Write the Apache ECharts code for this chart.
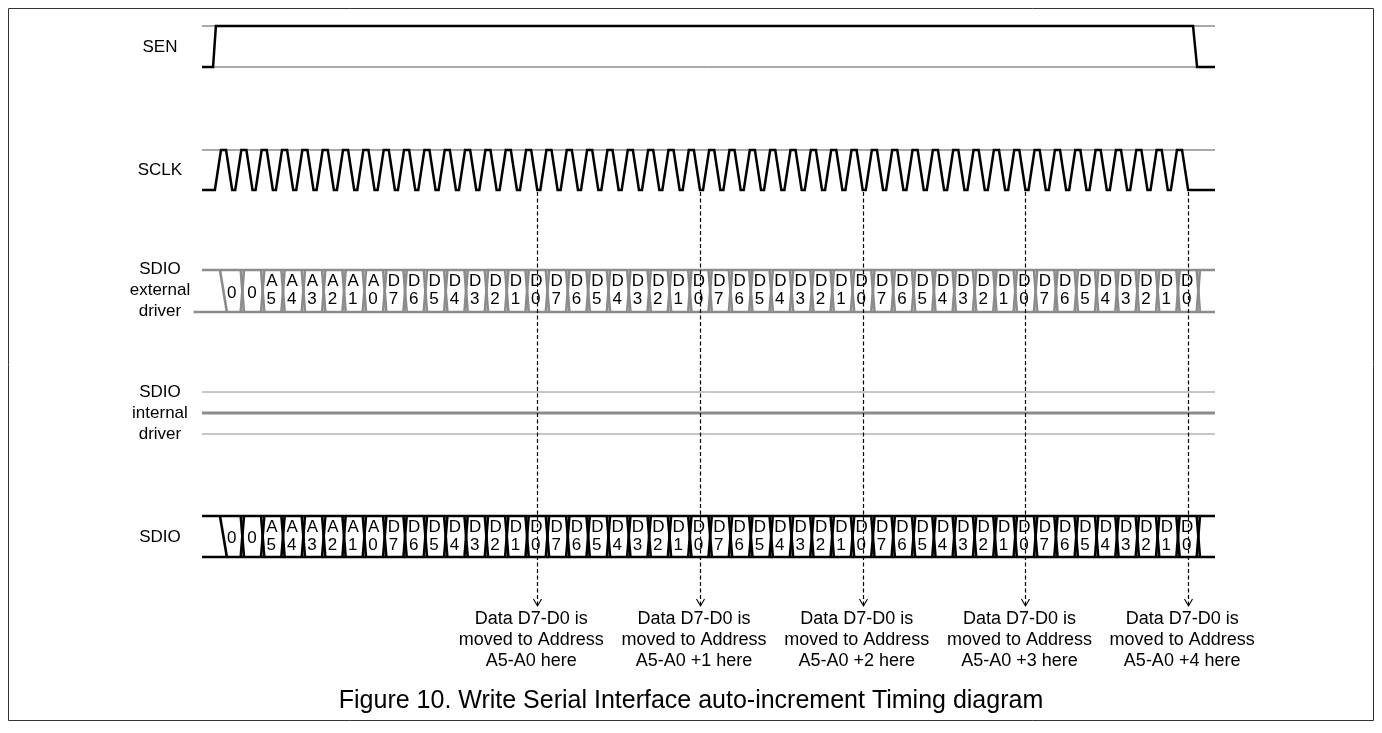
<!DOCTYPE html>
<html>
<head>
<meta charset="utf-8">
<script src="https://cdn.jsdelivr.net/npm/echarts@6/dist/echarts.min.js"></script>
<style>
  html, body { margin: 0; padding: 0; background: #fff; }
  #chart { width: 1382px; height: 733px; }
</style>
</head>
<body>
<div id="chart"></div>
<script>
// ---- timing content ----
const signalNames = [['SEN'], ['SCLK'], ['SDIO', 'external', 'driver'], ['SDIO', 'internal', 'driver'], ['SDIO']];
const headerBits = ['0', '0'];
const addressBits = ['A5', 'A4', 'A3', 'A2', 'A1', 'A0'];
const dataBits = ['D7', 'D6', 'D5', 'D4', 'D3', 'D2', 'D1', 'D0'];
const dataBytes = 5;
const clockPulses = 48;
const senEdges = [-0.44, -0.30, 47.74, 47.94];   // rise start, rise end, fall start, fall end (bit periods)
const noteLines = ['Data D7-D0 is', 'moved to Address'];
const addressOffsets = ['', ' +1', ' +2', ' +3', ' +4'];
const figureTitle = 'Figure 10. Write Serial Interface auto-increment Timing diagram';

// ---- layout ----
const W = 1382, H = 733;
const BIT_PX = 20.34, ORIGIN_PX = 222;          // x axis: one unit = one bit period
const X_MIN = -ORIGIN_PX / BIT_PX, X_MAX = (W - ORIGIN_PX) / BIT_PX;
const T_START = -0.98, T_END = 48.82;            // horizontal extent of the traces
const LABEL_X = -3.05;
const rowSen  = { hi: 26,  lo: 67,  label: [47] };
const rowClk  = { hi: 150, lo: 190, label: [170] };
const rowExt  = { hi: 270, lo: 312, label: [269, 290, 311] };
const rowInt  = { hi: 392, mid: 413, lo: 434, label: [392, 413, 434] };
const rowSdio = { hi: 516, lo: 557, label: [537] };
const FONT = '"Liberation Sans", Arial, Helvetica, sans-serif';
const BLACK = '#000000', GREY = '#8c8c8c';

// bit cells on the SDIO bus
const cells = headerBits.concat(addressBits);
for (let b = 0; b < dataBytes; b++) cells.push(...dataBits);
const headerLen = headerBits.length + addressBits.length;
// each data byte is latched at the middle of its D0 period
const latchPoints = [];
for (let b = 0; b < dataBytes; b++) latchPoints.push(headerLen + (b + 1) * dataBits.length - 0.5);

// ---- helpers ----
function segmentSeries(segs, color, width, dash, z) {
  return {
    type: 'custom', coordinateSystem: 'cartesian2d', clip: false, silent: true, z: z || 2,
    animation: false,
    data: segs,
    renderItem: (params, api) => {
      const p1 = api.coord([api.value(0), api.value(1)]);
      const p2 = api.coord([api.value(2), api.value(3)]);
      return {
        type: 'line',
        shape: { x1: p1[0], y1: p1[1], x2: p2[0], y2: p2[1] },
        style: { stroke: color, lineWidth: width, lineDash: dash || null, lineCap: 'butt' }
      };
    }
  };
}
function traceSeries(points, color, width, z) {
  return {
    type: 'line', data: points, symbol: 'none', silent: true, animation: false, z: z || 3,
    lineStyle: { color: color, width: width, join: 'miter' }
  };
}
function textSeries(items, z) {
  return {
    type: 'custom', coordinateSystem: 'cartesian2d', clip: false, silent: true, z: z || 5,
    animation: false,
    data: items.map(t => [t.x, t.y]),
    renderItem: (params, api) => {
      const t = items[params.dataIndex];
      const p = api.coord([api.value(0), api.value(1)]);
      return {
        type: 'text',
        style: {
          x: p[0] + (t.dx || 0), y: p[1], text: t.text,
          textAlign: 'center', textVerticalAlign: 'middle',
          font: t.size + 'px ' + FONT, fill: t.color || BLACK
        }
      };
    }
  };
}
// bus with crossing transitions at every bit boundary
function busSegments(row) {
  const segs = [];
  segs.push([T_START, row.hi, T_END, row.hi]);
  segs.push([T_START - (row === rowExt ? 0.42 : 0), row.lo, T_END, row.lo]);
  segs.push([-0.1, row.hi, 0.24, row.lo]);        // leave the idle level
  const d = 0.08;
  for (let i = 1; i <= cells.length; i++) {
    segs.push([i - d, row.hi, i + d, row.lo]);
    segs.push([i - d, row.lo, i + d, row.hi]);
  }
  return segs;
}
function busTexts(row) {
  const out = [];
  cells.forEach((c, i) => {
    const x = i + 0.5;
    if (c.length === 1) {
      out.push({ x, y: (row.hi + row.lo) / 2 + 2, text: c, size: 17, dx: -0.5 });
    } else {
      out.push({ x, y: row.hi + 11.5, text: c[0], size: 17, dx: -1 });
      out.push({ x, y: row.hi + 29.5, text: c[1], size: 17, dx: -1.5 });
    }
  });
  return out;
}

// ---- traces ----
const senTrace = [[T_START, rowSen.lo], [senEdges[0], rowSen.lo], [senEdges[1], rowSen.hi],
                  [senEdges[2], rowSen.hi], [senEdges[3], rowSen.lo], [T_END, rowSen.lo]];
const clkTrace = [[T_START, rowClk.lo]];
for (let k = 0; k < clockPulses; k++) {
  clkTrace.push([k - 0.35, rowClk.lo], [k - 0.05, rowClk.hi], [k + 0.2, rowClk.hi], [k + 0.5, rowClk.lo]);
}
clkTrace.push([T_END, rowClk.lo]);

// ---- texts ----
const labels = [];
[rowSen, rowClk, rowExt, rowInt, rowSdio].forEach((row, r) => {
  signalNames[r].forEach((name, j) => labels.push({ x: LABEL_X, y: row.label[j], text: name, size: 17 }));
});
const notes = [];
latchPoints.forEach((x, b) => {
  const lines = noteLines.concat(['A5-A0' + addressOffsets[b] + ' here']);
  lines.forEach((s, j) => notes.push({ x, y: 619 + j * 21, text: s, size: 18, dx: -6 }));
});

const chart = echarts.init(document.getElementById('chart'), null, { renderer: 'canvas', width: W, height: H });
chart.setOption({
  backgroundColor: '#ffffff',
  animation: false,
  title: {
    text: figureTitle, left: 'center', top: 684,
    textStyle: { fontSize: 25, fontWeight: 'normal', color: BLACK, fontFamily: FONT }
  },
  grid: { left: 0, right: 0, top: 0, bottom: 0 },
  xAxis: { type: 'value', min: X_MIN, max: X_MAX, show: false },
  yAxis: { type: 'value', min: 0, max: H, inverse: true, show: false },
  graphic: [{
    type: 'rect', shape: { x: 8.5, y: 8.5, width: 1365, height: 712 },
    style: { fill: null, stroke: '#333333', lineWidth: 1 }, silent: true, z: 1
  }],
  series: [
    // reference levels
    segmentSeries([[T_START, rowSen.hi, T_END, rowSen.hi], [T_START, rowSen.lo, T_END, rowSen.lo],
                   [T_START, rowClk.hi, T_END, rowClk.hi]], '#555555', 1),
    segmentSeries([[T_START, rowInt.hi, T_END, rowInt.hi], [T_START, rowInt.lo, T_END, rowInt.lo]], '#8c8c8c', 1),
    segmentSeries([[T_START, rowInt.mid, T_END, rowInt.mid]], '#8c8c8c', 3),
    // waveforms
    traceSeries(senTrace, BLACK, 2.5),
    traceSeries(clkTrace, BLACK, 2.5),
    segmentSeries(busSegments(rowExt), GREY, 2.6, null, 3),
    segmentSeries(busSegments(rowSdio), BLACK, 2.6, null, 3),
    // latch markers
    {
      type: 'custom', coordinateSystem: 'cartesian2d', clip: false, silent: true, z: 6, animation: false,
      data: latchPoints.map(x => [x, rowClk.lo, 606]),
      renderItem: (params, api) => {
        const top = api.coord([api.value(0), api.value(1)]);
        const tip = api.coord([api.value(0), api.value(2)]);
        const x = Math.round(top[0]) + 0.5;
        return {
          type: 'group', children: [
            { type: 'line', shape: { x1: x, y1: top[1] + 2, x2: x, y2: tip[1] - 1 },
              style: { stroke: BLACK, lineWidth: 1.2, lineDash: [4, 2.5] } },
            { type: 'polyline', shape: { points: [[x - 4, tip[1] - 7], [x, tip[1]], [x + 4, tip[1] - 7]] },
              style: { stroke: BLACK, lineWidth: 1.1, fill: null } }
          ]
        };
      }
    },
    textSeries(labels),
    textSeries(busTexts(rowExt)),
    textSeries(busTexts(rowSdio)),
    textSeries(notes)
  ]
});
</script>
</body>
</html>
